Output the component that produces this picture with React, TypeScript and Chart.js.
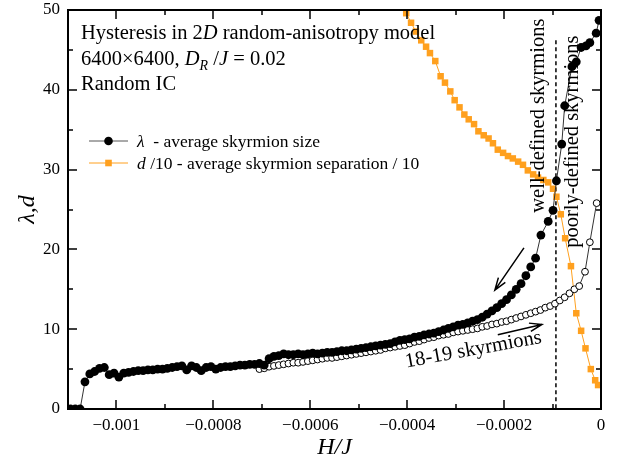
import React, { useEffect, useRef } from "react";
import { Chart, registerables } from "chart.js";
Chart.register(...registerables);

// ---- data (field H/J in units of 1e-6) ----
const fieldDownE6 = [
  -1105, -1095, -1085, -1075, -1065, -1055, -1045, -1035, -1025, -1015,
  -1005, -995, -985, -975, -965, -955, -945, -935, -925, -915,
  -905, -895, -885, -875, -865, -855, -845, -835, -825, -815,
  -805, -795, -785, -775, -765, -755, -745, -735, -725, -715,
  -705, -695, -685, -675, -665, -655, -645, -635, -625, -615,
  -605, -595, -585, -575, -565, -555, -545, -535, -525, -515,
  -505, -495, -485, -475, -465, -455, -445, -435, -425, -415,
  -405, -395, -385, -375, -365, -355, -345, -335, -325, -315,
  -305, -295, -285, -275, -265, -255, -245, -235, -225, -215,
  -205, -195, -185, -175, -165, -155, -145, -135,
  -124, -109, -99, -92, -81, -75, -60, -51, -41, -31, -23, -10, -4,
];
const lambdaDown = [
  0, 0, 0, 0, 3.4, 4.4, 4.7, 5.1, 5.2, 4.3,
  4.5, 4.0, 4.5, 4.6, 4.7, 4.8, 4.8, 4.9, 4.9, 5.0,
  5.0, 5.1, 5.2, 5.3, 5.4, 4.9, 5.4, 5.2, 4.8, 5.2,
  5.3, 5.0, 5.2, 5.3, 5.3, 5.4, 5.5, 5.5, 5.6, 5.6,
  5.7, 5.5, 6.3, 6.6, 6.7, 6.9, 6.8, 6.8, 6.9, 6.8,
  6.9, 7.0, 6.9, 7.0, 7.1, 7.1, 7.2, 7.3, 7.3, 7.4,
  7.5, 7.6, 7.7, 7.8, 7.9, 8.0, 8.1, 8.2, 8.4, 8.6,
  8.7, 8.8, 9.0, 9.1, 9.3, 9.4, 9.5, 9.7, 9.9, 10.1,
  10.3, 10.5, 10.6, 10.8, 11.0, 11.2, 11.5, 11.9, 12.3, 12.7,
  13.2, 13.7, 14.3, 15.0, 15.7, 16.7, 17.8, 18.9,
  21.8, 23.5, 24.9, 28.6, 33.2, 38.0, 42.9, 43.5, 45.3, 45.5, 45.9, 47.1, 48.7,
];

const fieldUpE6 = [
  -705, -695, -685, -675, -665, -655, -645, -635, -625, -615,
  -605, -595, -585, -575, -565, -555, -545, -535, -525, -515,
  -505, -495, -485, -475, -465, -455, -445, -435, -425, -415,
  -405, -395, -385, -375, -365, -355, -345, -335, -325, -315,
  -305, -295, -285, -275, -265, -255, -245, -235, -225, -215,
  -205, -195, -185, -175, -165, -155, -145, -135, -125, -115,
  -105, -95, -85, -75, -65, -55, -45,
  -33, -23, -9,
];
const lambdaUp = [
  5.0, 5.1, 5.3, 5.4, 5.5, 5.6, 5.7, 5.8, 5.8, 5.9,
  6.0, 6.1, 6.2, 6.3, 6.4, 6.4, 6.5, 6.6, 6.7, 6.8,
  6.9, 7.0, 7.1, 7.2, 7.3, 7.4, 7.6, 7.7, 7.8, 7.9,
  8.0, 8.2, 8.4, 8.5, 8.7, 8.9, 9.0, 9.2, 9.3, 9.4,
  9.6, 9.7, 9.8, 9.9, 10.0, 10.1, 10.3, 10.4, 10.6, 10.7,
  10.9, 11.0, 11.2, 11.4, 11.6, 11.8, 12.0, 12.2, 12.4, 12.7,
  12.9, 13.2, 13.6, 14.0, 14.5, 15.0, 15.4,
  17.2, 20.9, 25.8,
];

const fieldSepE6 = [
  -413, -402, -392, -382, -371, -361, -353, -342, -331, -322,
  -311, -302, -292, -282, -273, -262, -253, -242, -232, -223,
  -213, -202, -192, -182, -171, -161, -151, -140, -130, -119,
  -109, -99, -92, -83, -74, -62, -51, -41, -32, -21, -12, -6,
];
const sepOver10 = [
  51.0, 49.6, 48.4, 47.3, 46.2, 45.4, 44.6, 43.6, 41.7, 40.9,
  39.8, 38.7, 37.8, 36.9, 36.3, 35.7, 34.8, 34.3, 33.9, 33.3,
  32.5, 32.1, 31.7, 31.4, 31.0, 30.6, 29.9, 29.4, 29.0, 28.7,
  28.4, 27.6, 26.6, 24.4, 21.4, 17.9, 12.0, 9.8, 7.6, 5.0, 3.6, 3.0,
];

const xTickValues = [-0.001, -0.0008, -0.0006, -0.0004, -0.0002, 0];
const xTickLabels = ["\u22120.001", "\u22120.0008", "\u22120.0006", "\u22120.0004", "\u22120.0002", "0"];
const yTickValues = [0, 10, 20, 30, 40, 50];

const boundaryField = -0.000093;
const boundaryTop = 46.2;

const ORANGE = "#ffa01e";
const SERIF = '"Liberation Serif", "Times New Roman", serif';

type Part = { t: string; i?: boolean; s?: number; dy?: number };

function drawRich(ctx: CanvasRenderingContext2D, parts: Part[], x: number, y: number, size: number) {
  let cx = x;
  for (const p of parts) {
    const sz = p.s ?? size;
    ctx.font = `${p.i ? "italic " : ""}${sz}px ${SERIF}`;
    ctx.fillText(p.t, cx, y + (p.dy ?? 0));
    cx += ctx.measureText(p.t).width;
  }
  return cx - x;
}

function arrow(ctx: CanvasRenderingContext2D, x1: number, y1: number, x2: number, y2: number) {
  const ang = Math.atan2(y2 - y1, x2 - x1);
  const hl = 13;
  const ha = 0.33;
  ctx.beginPath();
  ctx.moveTo(x1, y1);
  ctx.lineTo(x2, y2);
  ctx.moveTo(x2 - hl * Math.cos(ang - ha), y2 - hl * Math.sin(ang - ha));
  ctx.lineTo(x2, y2);
  ctx.lineTo(x2 - hl * Math.cos(ang + ha), y2 - hl * Math.sin(ang + ha));
  ctx.stroke();
}

const decor = {
  id: "decor",
  beforeDatasetsDraw(chart: any) {
    const { ctx, chartArea: a, scales } = chart;
    const x = scales.x, y = scales.y;
    ctx.save();
    ctx.setLineDash([4, 3]);
    ctx.lineWidth = 1.5;
    ctx.strokeStyle = "#000";
    const px = x.getPixelForValue(boundaryField);
    ctx.beginPath();
    ctx.moveTo(px, y.getPixelForValue(boundaryTop));
    ctx.lineTo(px, a.bottom);
    ctx.stroke();
    ctx.restore();
  },
  afterDraw(chart: any) {
    const { ctx, chartArea: a, scales } = chart;
    const x = scales.x, y = scales.y;
    ctx.save();
    ctx.setLineDash([]);
    ctx.globalAlpha = 1;
    ctx.strokeStyle = "#000";
    ctx.fillStyle = "#000";
    // frame as filled bars
    const L = Math.round(a.left), R = Math.round(a.right), T = Math.round(a.top), B = Math.round(a.bottom);
    ctx.fillRect(L - 1, T - 1, R - L + 2, 2);
    ctx.fillRect(L - 1, B - 1, R - L + 2, 2);
    ctx.fillRect(L - 1, T - 1, 2, B - T + 2);
    ctx.fillRect(R - 1, T - 1, 2, B - T + 2);
    // ticks (inward on all sides)
    for (let i = 0; i <= 10; i++) {
      const v = -i * 0.0001;
      const px = Math.round(x.getPixelForValue(v));
      const len = i % 2 === 0 ? 9 : 5;
      ctx.fillRect(px - 0.75, B - len, 1.5, len);
      ctx.fillRect(px - 0.75, T, 1.5, len);
    }
    for (let j = 0; j <= 10; j++) {
      const v = j * 5;
      const py = Math.round(y.getPixelForValue(v));
      const len = j % 2 === 0 ? 9 : 5;
      ctx.fillRect(L, py - 0.75, len, 1.5);
      ctx.fillRect(R - len, py - 0.75, len, 1.5);
    }

    // annotation block
    const fs = 20.5;
    ctx.textAlign = "left";
    ctx.textBaseline = "alphabetic";
    const tx = L + 13;
    drawRich(ctx, [{ t: "Hysteresis in 2" }, { t: "D", i: true }, { t: " random-anisotropy model" }], tx, T + 29, fs);
    drawRich(
      ctx,
      [
        { t: "6400\u00d76400, " },
        { t: "D", i: true },
        { t: "R", i: true, s: 14, dy: 5 },
        { t: " /" },
        { t: "J", i: true },
        { t: " = 0.02" },
      ],
      tx,
      T + 55,
      fs
    );
    drawRich(ctx, [{ t: "Random IC" }], tx, T + 80, fs);

    // legend
    const lx1 = L + 21, lx2 = L + 60, lm = (lx1 + lx2) / 2, ltx = L + 69;
    const ly1 = T + 131, ly2 = T + 153;
    ctx.lineWidth = 1;
    ctx.strokeStyle = "#555";
    ctx.beginPath();
    ctx.moveTo(lx1, ly1);
    ctx.lineTo(lx2, ly1);
    ctx.stroke();
    ctx.beginPath();
    ctx.arc(lm, ly1, 4.3, 0, Math.PI * 2);
    ctx.fill();
    ctx.strokeStyle = ORANGE;
    ctx.beginPath();
    ctx.moveTo(lx1, ly2);
    ctx.lineTo(lx2, ly2);
    ctx.stroke();
    ctx.fillStyle = ORANGE;
    ctx.fillRect(lm - 3.3, ly2 - 3.3, 6.6, 6.6);
    ctx.fillStyle = "#000";
    drawRich(ctx, [{ t: "\u03bb", i: true }, { t: "  - average skyrmion size" }], ltx, ly1 + 6, 17.5);
    drawRich(ctx, [{ t: "d", i: true }, { t: " /10 - average skyrmion separation / 10" }], ltx, ly2 + 6, 17.5);

    // rotated region labels
    ctx.font = `${fs}px ${SERIF}`;
    ctx.save();
    ctx.translate(x.getPixelForValue(-0.000118), y.getPixelForValue(24.6));
    ctx.rotate(-Math.PI / 2);
    ctx.fillText("well-defined skyrmions", 0, 0);
    ctx.restore();
    ctx.save();
    ctx.translate(x.getPixelForValue(-0.0000476), y.getPixelForValue(20.2));
    ctx.rotate(-Math.PI / 2);
    ctx.fillText("poorly-defined skyrmions", 0, 0);
    ctx.restore();

    // 18-19 skyrmions
    ctx.save();
    ctx.translate(x.getPixelForValue(-0.000402), y.getPixelForValue(5.2));
    ctx.rotate(-0.18);
    ctx.fillText("18-19 skyrmions", 0, 0);
    ctx.restore();

    // arrows
    ctx.lineWidth = 1.5;
    ctx.strokeStyle = "#000";
    arrow(ctx, x.getPixelForValue(-0.000159), y.getPixelForValue(20.2), x.getPixelForValue(-0.000219), y.getPixelForValue(14.9));
    arrow(ctx, x.getPixelForValue(-0.000213), y.getPixelForValue(9.3), x.getPixelForValue(-0.000122), y.getPixelForValue(10.6));

    // axis titles
    ctx.font = `italic 24px ${SERIF}`;
    ctx.textAlign = "center";
    ctx.textBaseline = "middle";
    ctx.fillText("H/J", (L + R) / 2, B + 39);
    ctx.save();
    ctx.translate(L - 40, (T + B) / 2);
    ctx.rotate(-Math.PI / 2);
    ctx.fillText("\u03bb,d", 0, 0);
    ctx.restore();
    ctx.restore();
  },
};

export default function App() {
  const ref = useRef<HTMLCanvasElement | null>(null);
  useEffect(() => {
    if (!ref.current) return;
    const toPts = (xs: number[], ys: number[]) => xs.map((v, i) => ({ x: v * 1e-6, y: ys[i] }));
    const chart = new Chart(ref.current, {
      type: "line",
      data: {
        datasets: [
          {
            label: "lambda down",
            data: toPts(fieldDownE6, lambdaDown),
            borderColor: "#333",
            borderWidth: 1,
            pointRadius: 4.4,
            pointBackgroundColor: "#000",
            pointBorderColor: "#000",
            pointBorderWidth: 0,
            tension: 0,
          },
          {
            label: "lambda up",
            data: toPts(fieldUpE6, lambdaUp),
            borderColor: "#333",
            borderWidth: 1,
            pointRadius: 3.4,
            pointBackgroundColor: "#fff",
            pointBorderColor: "#000",
            pointBorderWidth: 1,
            tension: 0,
          },
          {
            label: "d/10",
            data: toPts(fieldSepE6, sepOver10),
            borderColor: ORANGE,
            borderWidth: 1,
            pointStyle: "rect",
            pointRadius: 4.6,
            pointBackgroundColor: ORANGE,
            pointBorderColor: ORANGE,
            pointBorderWidth: 0,
            tension: 0,
          },
        ],
      },
      options: {
        animation: false,
        responsive: false,
        events: [],
        layout: { padding: { left: 8, right: 17, top: 10, bottom: 0 } },
        plugins: { legend: { display: false }, tooltip: { enabled: false } },
        scales: {
          x: {
            type: "linear",
            min: -0.0011,
            max: 0,
            grid: { display: false, drawTicks: false },
            border: { display: false },
            afterBuildTicks: (s: any) => {
              s.ticks = xTickValues.map((v) => ({ value: v }));
            },
            afterFit: (s: any) => {
              s.height = 57;
            },
            ticks: {
              padding: 6,
              color: "#000",
              font: { family: SERIF, size: 17 },
              maxRotation: 0,
              autoSkip: false,
              callback: (_v: any, i: number) => xTickLabels[i],
            },
          },
          y: {
            type: "linear",
            min: 0,
            max: 50,
            grid: { display: false, drawTicks: false },
            border: { display: false },
            afterBuildTicks: (s: any) => {
              s.ticks = yTickValues.map((v) => ({ value: v }));
            },
            afterFit: (s: any) => {
              s.width = 60;
              s.paddingTop = 0;
              s.paddingBottom = 0;
            },
            ticks: {
              padding: 8,
              color: "#000",
              font: { family: SERIF, size: 17, lineHeight: 0.2 },
              callback: (v: any) => String(v),
            },
          },
        },
      },
      plugins: [decor],
    });
    return () => chart.destroy();
  }, []);
  return (
    <div style={{ position: "absolute", left: 0, top: 0, width: 618, height: 466, background: "#fff" }}>
      <canvas ref={ref} width={618} height={466} style={{ display: "block" }} />
    </div>
  );
}
